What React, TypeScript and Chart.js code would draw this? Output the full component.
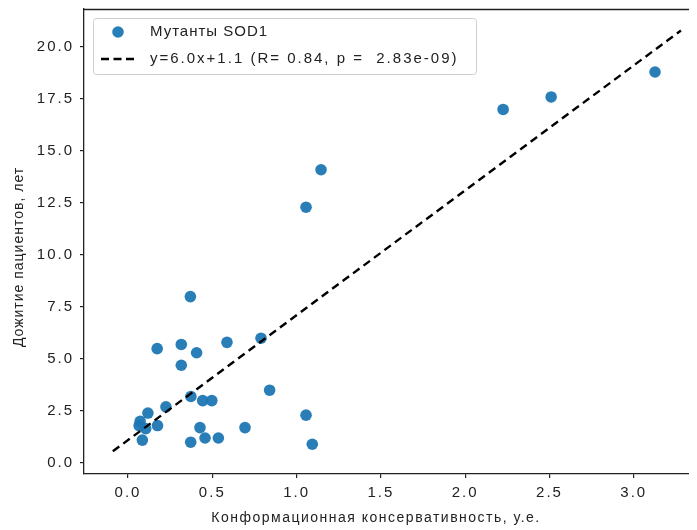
import React, { useEffect, useRef } from "react";
import { Chart, registerables } from "chart.js";

Chart.register(...registerables);

// ---- data ----
const mutantX = [
  3.126, 2.51, 2.225, 1.145, 1.056, 0.37, 0.789, 0.587, 0.316, 0.173,
  0.407, 0.316, 0.84, 0.373, 0.443, 0.497, 0.225, 0.118, 1.056, 0.072,
  0.066, 0.105, 0.175, 0.427, 0.694, 0.457, 0.536, 0.372, 0.085, 1.093,
];
const mutantY = [
  18.8, 17.6, 17.0, 14.1, 12.3, 8.0, 6.0, 5.8, 5.7, 5.5,
  5.3, 4.7, 3.5, 3.2, 3.0, 3.0, 2.7, 2.4, 2.3, 2.0,
  1.8, 1.65, 1.8, 1.7, 1.7, 1.2, 1.2, 1.0, 1.1, 0.9,
];
const fitX = [-0.09, 3.28];
const fitY = [0.56, 20.8];
const xTicks = [0, 0.5, 1.0, 1.5, 2.0, 2.5, 3.0];
const yTicks = [0, 2.5, 5.0, 7.5, 10.0, 12.5, 15.0, 17.5, 20.0];

const seriesLabel = "Мутанты SOD1";
const fitLabel = "y=6.0x+1.1 (R= 0.84, p =  2.83e-09)";
const xTitle = "Конформационная консервативность, у.е.";
const yTitle = "Дожитие пациентов, лет";

const FONT = '"Liberation Sans", Arial, sans-serif';
const BLUE = "rgba(31,119,180,0.95)";
const INK = "#222222";

const W = 689;
const H = 522;

export default function App() {
  const ref = useRef<HTMLCanvasElement | null>(null);

  useEffect(() => {
    const canvas = ref.current;
    if (!canvas) return;

    const spacingPlugin = {
      id: "spacing",
      beforeDraw(chart: any) {
        (chart.ctx as any).letterSpacing = "2px";
      },
    };

    const decorPlugin = {
      id: "decor",
      afterDraw(chart: any) {
        const ctx = chart.ctx as CanvasRenderingContext2D;
        const area = chart.chartArea;
        ctx.save();
        // top spine
        ctx.strokeStyle = INK;
        ctx.lineWidth = 1.3;
        ctx.beginPath();
        ctx.moveTo(area.left, area.top + 0.5);
        ctx.lineTo(area.right, area.top + 0.5);
        ctx.stroke();

        // legend box
        ctx.fillStyle = "rgba(255,255,255,0.85)";
        ctx.strokeStyle = "#cfcfcf";
        ctx.lineWidth = 1;
        ctx.beginPath();
        (ctx as any).roundRect(85.5, 10.5, 383, 56, 3);
        ctx.fill();
        ctx.stroke();

        // marker
        ctx.fillStyle = BLUE;
        ctx.beginPath();
        ctx.arc(110, 24, 5.8, 0, Math.PI * 2);
        ctx.fill();

        // dashed line
        ctx.strokeStyle = "#000";
        ctx.lineWidth = 2.4;
        ctx.setLineDash([8, 4.5]);
        ctx.beginPath();
        ctx.moveTo(93, 51);
        ctx.lineTo(128, 51);
        ctx.stroke();
        ctx.setLineDash([]);

        ctx.fillStyle = INK;
        ctx.font = `15px ${FONT}`;
        ctx.textAlign = "left";
        ctx.textBaseline = "middle";
        (ctx as any).letterSpacing = "1px";
        ctx.fillText(seriesLabel, 142, 24);
        (ctx as any).letterSpacing = "2px";
        ctx.fillText(fitLabel, 142, 51);

        // axis titles
        (ctx as any).letterSpacing = "1.5px";
        ctx.font = `14px ${FONT}`;
        ctx.textAlign = "center";
        ctx.fillText(xTitle, 368, 510);
        ctx.save();
        ctx.translate(11, 249);
        ctx.rotate(-Math.PI / 2);
        (ctx as any).letterSpacing = "1px";
        ctx.fillText(yTitle, 0, 0);
        ctx.restore();
        ctx.restore();
      },
    };

    const zeroPad = (s: any) => {
      s.paddingTop = 0;
      s.paddingBottom = 0;
      s.paddingLeft = 0;
      s.paddingRight = 0;
    };

    const chart = new Chart(canvas, {
      type: "scatter",
      data: {
        datasets: [
          {
            type: "line",
            label: fitLabel,
            data: fitX.map((x, i) => ({ x, y: fitY[i] })),
            borderColor: "#000",
            borderWidth: 2.4,
            borderDash: [8, 5],
            pointRadius: 0,
            fill: false,
            tension: 0,
          } as any,
          {
            type: "scatter",
            label: seriesLabel,
            data: mutantX.map((x, i) => ({ x, y: mutantY[i] })),
            backgroundColor: BLUE,
            borderWidth: 0,
            pointRadius: 5.8,
            pointHoverRadius: 5.8,
          },
        ],
      },
      options: {
        responsive: false,
        animation: false,
        devicePixelRatio: 1,
        layout: { autoPadding: false, padding: { top: 1, left: 0, right: 0, bottom: 0 } },
        plugins: {
          legend: { display: false },
          tooltip: { enabled: false },
        },
        scales: {
          x: {
            type: "linear",
            min: -0.261,
            max: 3.375,
            afterBuildTicks: (s: any) => {
              s.ticks = xTicks.map((v) => ({ value: v }));
            },
            afterFit: (s: any) => {
              s.height = 56;
              zeroPad(s);
            },
            grid: {
              drawOnChartArea: false,
              drawTicks: true,
              tickLength: 4,
              color: INK,
              lineWidth: 1.2,
            },
            border: { display: true, color: INK, width: 1.3 },
            ticks: {
              color: INK,
              font: { family: FONT, size: 15 },
              padding: 6,
              maxRotation: 0,
              autoSkip: false,
              callback: (v: any) => Number(v).toFixed(1),
            },
          },
          y: {
            type: "linear",
            min: -0.53,
            max: 21.83,
            afterBuildTicks: (s: any) => {
              s.ticks = yTicks.map((v) => ({ value: v }));
            },
            afterFit: (s: any) => {
              s.width = 76;
              zeroPad(s);
            },
            grid: {
              drawOnChartArea: false,
              drawTicks: true,
              tickLength: 4,
              color: INK,
              lineWidth: 1.2,
            },
            border: { display: true, color: INK, width: 1.3 },
            ticks: {
              color: INK,
              font: { family: FONT, size: 15 },
              padding: 6,
              autoSkip: false,
              callback: (v: any) => Number(v).toFixed(1),
            },
          },
        },
      },
      plugins: [spacingPlugin, decorPlugin],
    });

    return () => chart.destroy();
  }, []);

  return (
    <div style={{ width: W, height: H, position: "relative" }}>
      <canvas ref={ref} width={W} height={H} style={{ display: "block", width: W, height: H }} />
    </div>
  );
}
